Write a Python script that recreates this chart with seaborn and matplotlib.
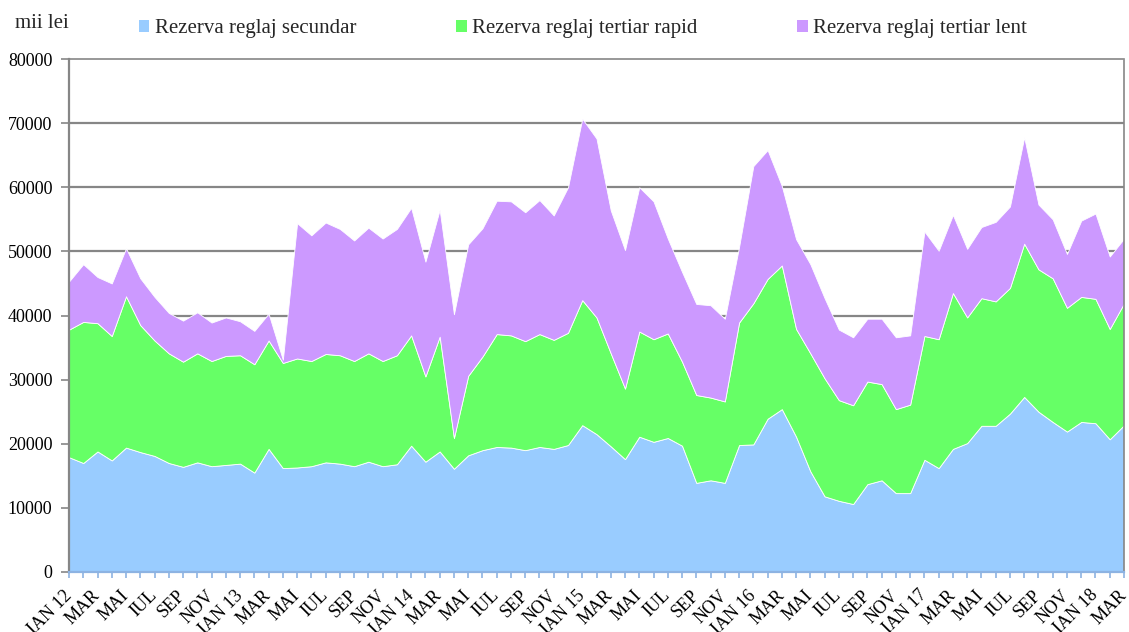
import matplotlib
matplotlib.use("Agg")
import matplotlib.pyplot as plt
from matplotlib.patches import Patch
import numpy as np
import pandas as pd
import seaborn as sns

# Monthly reserve costs, thousand lei, Jan 2012 - Mar 2018
secundar = [17900, 17000, 18800, 17400, 19400, 18700, 18100, 17000, 16400, 17100,
            16500, 16700, 16900, 15500, 19200, 16200, 16300, 16500, 17100, 16900,
            16500, 17200, 16500, 16800, 19700, 17200, 18800, 16100, 18200, 19000,
            19500, 19400, 19000, 19500, 19200, 19800, 22900, 21500, 19600, 17600,
            21100, 20300, 20900, 19700, 13900, 14300, 13900, 19800, 19900, 23900,
            25400, 21100, 15700, 11800, 11100, 10600, 13700, 14300, 12300, 12300,
            17500, 16200, 19200, 20100, 22800, 22800, 24700, 27300, 25000, 23400,
            21900, 23400, 23200, 20700, 22900]
tertiar_rapid = [19900, 22000, 20000, 19400, 23600, 19800, 18000, 17100, 16400, 17000,
                 16400, 17000, 16900, 16900, 16900, 16400, 17000, 16400, 16900, 16900,
                 16400, 16900, 16400, 17000, 17200, 13300, 17900, 4800, 12400, 14600,
                 17600, 17500, 17000, 17600, 17000, 17500, 19500, 18200, 14500, 11000,
                 16400, 16000, 16300, 13100, 13700, 12900, 12700, 19100, 22000, 21800,
                 22400, 16800, 18400, 18400, 15700, 15400, 16000, 15000, 13100, 13800,
                 19300, 20100, 24300, 19600, 19900, 19400, 19600, 23900, 22200, 22400,
                 19300, 19500, 19400, 17200, 19000]
tertiar_lent = [7500, 9000, 7200, 8200, 7500, 7300, 6800, 6300, 6400, 6400,
                6000, 6000, 5300, 5200, 4200, 500, 21100, 19600, 20500, 19700,
                18800, 19600, 19100, 19700, 19900, 17900, 19800, 19300, 20500, 20000,
                20800, 20900, 20100, 20900, 19400, 22700, 28300, 27900, 22300, 21600,
                22500, 21500, 14800, 14000, 14200, 14400, 12900, 11800, 21400, 20100,
                12400, 14000, 13900, 12500, 11000, 10600, 9800, 10200, 11200, 10800,
                16300, 13800, 12200, 10700, 11100, 12400, 12700, 16600, 10100, 9200,
                8400, 11900, 13300, 11300, 10100]

series_names = ["Rezerva reglaj secundar", "Rezerva reglaj tertiar rapid",
                "Rezerva reglaj tertiar lent"]
series_colors = ["#99CCFF", "#66FF66", "#CC99FF"]

tick_labels = ["IAN 12", "MAR", "MAI", "IUL", "SEP", "NOV",
               "IAN 13", "MAR", "MAI", "IUL", "SEP", "NOV",
               "IAN 14", "MAR", "MAI", "IUL", "SEP", "NOV",
               "IAN 15", "MAR", "MAI", "IUL", "SEP", "NOV",
               "IAN 16", "MAR", "MAI", "IUL", "SEP", "NOV",
               "IAN 17", "MAR", "MAI", "IUL", "SEP", "NOV",
               "IAN 18", "MAR"]

df = pd.DataFrame({series_names[0]: secundar,
                   series_names[1]: tertiar_rapid,
                   series_names[2]: tertiar_lent})
df.index.name = "luna"

sns.set_theme(style="white")
plt.rcParams["font.family"] = ["Liberation Serif", "DejaVu Serif"]

fig = plt.figure(figsize=(11.29, 6.32), dpi=100)
ax = fig.add_axes([69 / 1129, 60 / 632, 1055 / 1129, 513 / 632])

x = np.arange(len(df))
ax.stackplot(x, df[series_names[0]], df[series_names[1]], df[series_names[2]],
             colors=series_colors, linewidth=0.6, edgecolor="white", zorder=2)

grid_color = "#868686"
for yv in range(10000, 80000, 10000):
    ax.axhline(yv, color=grid_color, linewidth=1.6, zorder=1)

ax.set_xlim(0, len(df) - 1)
ax.set_ylim(0, 80000)
ax.set_yticks(range(0, 80001, 10000))
ax.set_yticklabels([str(v) for v in range(0, 80001, 10000)], fontsize=13, color="black")

ax.set_xticks(x, minor=True)
ax.set_xticks(x[::2])
ax.set_xticklabels(tick_labels, rotation=45, ha="right", va="center",
                   rotation_mode="anchor", fontsize=13, color="black")

ax.tick_params(axis="y", which="major", direction="out", length=6, width=1.2,
               color=grid_color, pad=6, left=True)
ax.tick_params(axis="x", which="both", direction="inout", length=8, width=1.2,
               color="#8DB3E2", pad=11, bottom=True)

for side in ["top", "right"]:
    ax.spines[side].set_color(grid_color)
    ax.spines[side].set_linestyle((0, (1, 1)))
    ax.spines[side].set_linewidth(1.2)
ax.spines["left"].set_color(grid_color)
ax.spines["left"].set_linewidth(1.6)
ax.spines["bottom"].set_color("#8DB3E2")
ax.spines["bottom"].set_linewidth(1.6)
for sp in ax.spines.values():
    sp.set_zorder(3)

ax.set_xlabel("")
ax.set_ylabel("")

fig.text(15 / 1129, 1 - 23 / 632, "mii lei", fontsize=15, va="center", ha="left")

handles = [Patch(facecolor=c, edgecolor="none") for c in series_colors]
fig.legend(handles, series_names, loc="center left", bbox_to_anchor=(139 / 1129, 1 - 29 / 632),
           ncol=3, frameon=False, fontsize=15, handlelength=0.5, handleheight=0.5,
           handletextpad=0.25, columnspacing=4.8, borderaxespad=0, borderpad=0)

fig.savefig("out.png", dpi=100)
